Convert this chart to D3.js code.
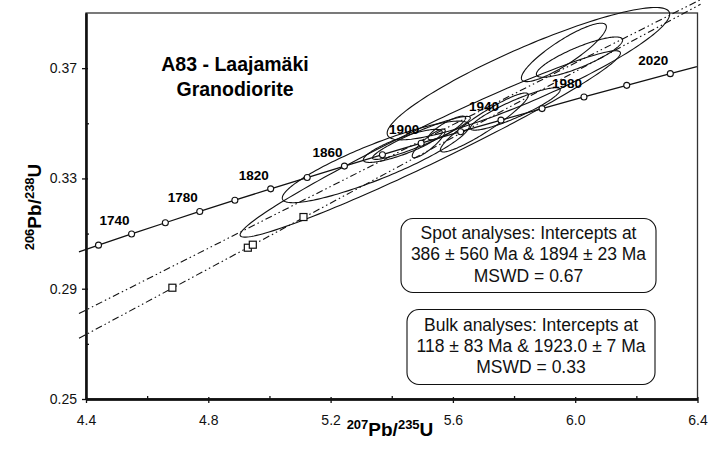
<!DOCTYPE html>
<html>
<head>
<meta charset="utf-8">
<script src="https://cdn.jsdelivr.net/npm/d3@7"></script>
<style>
  body { margin: 0; background: #fff; }
  svg { display: block; font-family: "Liberation Sans", Arial, sans-serif; }
</style>
</head>
<body>
<svg id="chart" width="708" height="454"></svg>
<script>
// U-Pb concordia plot, sample A83 Laajamaki granodiorite

// decay constants per Ma
const L238 = 1.55125e-4;
const L235 = 9.8485e-4;

// concordia ages with markers, labelled ages and extent of the drawn curve (Ma)
const AGES = [1720, 1740, 1760, 1780, 1800, 1820, 1840, 1860, 1880, 1900, 1920, 1940, 1960, 1980, 2000, 2020];
const AGE_LABELS = [1740, 1780, 1820, 1860, 1900, 1940, 1980, 2020];
const CONCORDIA_SPAN = [1708, 2032];

// discordia intercepts (Ma) and drawn x extent
const SPOT_INTERCEPTS = [386, 1894];
const BULK_INTERCEPTS = [118, 1923];
const DISCORDIA_X = [4.377, 6.41];

// bulk analyses (squares)
const BULK_X = [4.6825, 4.9293, 4.9456, 5.1113];
const BULK_Y = [0.29036, 0.30487, 0.30596, 0.3160];

// spot analyses: centre, half extents of the error ellipse, error correlation
const SPOT_X   = [5.526, 5.847, 5.348, 5.963, 6.014, 5.436, 5.703, 5.521, 5.580, 5.497, 5.804];
const SPOT_Y   = [0.3425, 0.3680, 0.3360, 0.3757, 0.3740, 0.3418, 0.3503, 0.3427, 0.3483, 0.3447, 0.3552];
const SPOT_HX  = [0.622, 0.462, 0.306, 0.139, 0.141, 0.129, 0.144, 0.054, 0.061, 0.160, 0.147];
const SPOT_HY  = [0.0338, 0.0240, 0.0148, 0.0106, 0.0073, 0.0060, 0.0107, 0.0052, 0.0043, 0.0078, 0.0077];
const SPOT_RHO = [0.975, 0.899, 0.885, 0.875, 0.845, 0.84, 0.93, 0.87, 0.85, 0.93, 0.90];

const X_TICKS = [4.4, 4.8, 5.2, 5.6, 6.0, 6.4];
const X_MINOR = [4.6, 5.0, 5.4, 5.8, 6.2];
const Y_TICKS = [0.25, 0.29, 0.33, 0.37];
const Y_MINOR = [0.27, 0.31, 0.35];

const svg = d3.select("#chart");
const x = d3.scaleLinear().domain([4.4, 6.4]).range([86, 697.5]);
const y = d3.scaleLinear().domain([0.25, 0.39]).range([399, 13]);

function concordia(t){
  return [Math.exp(L235 * t) - 1, Math.exp(L238 * t) - 1];
}

// frame
svg.append("rect")
  .attr("x", x(4.4)).attr("y", y(0.39))
  .attr("width", x(6.4) - x(4.4)).attr("height", y(0.25) - y(0.39))
  .attr("fill", "none").attr("stroke", "#333").attr("stroke-width", 1.3);

// axes
const gx = svg.append("g").attr("transform", `translate(0,${y(0.25)})`);
gx.call(d3.axisBottom(x).tickValues(X_TICKS).tickFormat(d3.format(".1f")).tickSizeInner(4).tickSizeOuter(0).tickPadding(12));
gx.append("g").call(d3.axisBottom(x).tickValues(X_TICKS).tickFormat("").tickSizeInner(-2).tickSizeOuter(0));
gx.append("g").call(d3.axisBottom(x).tickValues(X_MINOR).tickFormat("").tickSizeInner(-3).tickSizeOuter(0));

const gy = svg.append("g").attr("transform", `translate(${x(4.4)},0)`);
gy.call(d3.axisLeft(y).tickValues(Y_TICKS).tickFormat(d3.format(".2f")).tickSizeInner(4).tickSizeOuter(0).tickPadding(5));
gy.append("g").call(d3.axisLeft(y).tickValues(Y_TICKS).tickFormat("").tickSizeInner(-2).tickSizeOuter(0));
gy.append("g").call(d3.axisLeft(y).tickValues(Y_MINOR).tickFormat("").tickSizeInner(-3).tickSizeOuter(0));

svg.selectAll(".domain").attr("stroke", "#111").attr("stroke-width", 1.8);
svg.selectAll(".tick line").attr("stroke", "#111").attr("stroke-width", 1.3);
svg.selectAll(".tick text").attr("font-size", 14).attr("font-family", "Liberation Sans, Arial").attr("fill", "#111");

// axis titles
const xt = svg.append("text").attr("x", 390).attr("y", 436)
  .attr("text-anchor", "middle").attr("font-weight", "bold").attr("font-size", 19);
xt.append("tspan").attr("font-size", 13).attr("dy", -7).text("207");
xt.append("tspan").attr("dy", 7).text("Pb/");
xt.append("tspan").attr("font-size", 13).attr("dy", -7).text("235");
xt.append("tspan").attr("dy", 7).text("U");

const yt = svg.append("text").attr("transform", "translate(41,207) rotate(-90)")
  .attr("text-anchor", "middle").attr("font-weight", "bold").attr("font-size", 19);
yt.append("tspan").attr("font-size", 13).attr("dy", -7).text("206");
yt.append("tspan").attr("dy", 7).text("Pb/");
yt.append("tspan").attr("font-size", 13).attr("dy", -7).text("238");
yt.append("tspan").attr("dy", 7).text("U");

// title
svg.append("text").attr("x", 235).attr("y", 71).attr("text-anchor", "middle")
  .attr("font-weight", "bold").attr("font-size", 19.5).text("A83 - Laajamäki");
svg.append("text").attr("x", 235).attr("y", 96).attr("text-anchor", "middle")
  .attr("font-weight", "bold").attr("font-size", 19.5).text("Granodiorite");

// discordia lines
function discordia(ints){
  const a = concordia(ints[0]), b = concordia(ints[1]);
  const slope = (b[1] - a[1]) / (b[0] - a[0]);
  return DISCORDIA_X.map(v => [v, a[1] + slope * (v - a[0])]);
}
const line = d3.line().x(d => x(d[0])).y(d => y(d[1]));
svg.append("path").attr("d", line(discordia(SPOT_INTERCEPTS)))
  .attr("fill", "none").attr("stroke", "#111").attr("stroke-width", 1.1)
  .attr("stroke-dasharray", "7,3,1.5,3,1.5,3");
svg.append("path").attr("d", line(discordia(BULK_INTERCEPTS)))
  .attr("fill", "none").attr("stroke", "#111").attr("stroke-width", 1.1)
  .attr("stroke-dasharray", "7,3,1.5,3,1.5,3");

// concordia curve
const cPts = [CONCORDIA_SPAN[0], ...AGES, CONCORDIA_SPAN[1]].map(concordia);
svg.append("path").attr("d", line(cPts))
  .attr("fill", "none").attr("stroke", "#111").attr("stroke-width", 1.3);

// spot error ellipses
const ts = d3.range(0, 2 * Math.PI, Math.PI / 90);
const ellipseLine = d3.line().x(d => x(d[0])).y(d => y(d[1])).curve(d3.curveLinearClosed);
SPOT_X.forEach((cx, i) => {
  const r = SPOT_RHO[i], s = Math.sqrt(1 - r * r);
  const pts = ts.map(t => [cx + SPOT_HX[i] * Math.cos(t),
    SPOT_Y[i] + SPOT_HY[i] * (r * Math.cos(t) + s * Math.sin(t))]);
  svg.append("path").attr("d", ellipseLine(pts))
    .attr("fill", "none").attr("stroke", "#111").attr("stroke-width", 1.1);
});

// concordia markers and labels
svg.selectAll("circle.age").data(AGES).join("circle")
  .attr("class", "age")
  .attr("cx", d => x(concordia(d)[0])).attr("cy", d => y(concordia(d)[1]))
  .attr("r", 3).attr("fill", "#fff").attr("stroke", "#111").attr("stroke-width", 1.1);
svg.selectAll("text.age").data(AGE_LABELS).join("text")
  .attr("class", "age")
  .attr("x", d => x(concordia(d)[0]) - 2).attr("y", d => y(concordia(d)[1]) - 9)
  .attr("text-anchor", "end").attr("font-weight", "bold").attr("font-size", 13.5)
  .text(d => d);

// bulk squares
svg.selectAll("rect.bulk").data(BULK_X).join("rect")
  .attr("class", "bulk")
  .attr("x", (d, i) => x(d) - 3.5).attr("y", (d, i) => y(BULK_Y[i]) - 3.5)
  .attr("width", 7).attr("height", 7)
  .attr("fill", "#fff").attr("stroke", "#111").attr("stroke-width", 1.2);

// result boxes
function resultBox(x0, y0, x1, y1, lines, base){
  svg.append("rect").attr("x", x0).attr("y", y0).attr("width", x1 - x0).attr("height", y1 - y0)
    .attr("rx", 12).attr("fill", "#fff").attr("stroke", "#111").attr("stroke-width", 1.1);
  lines.forEach((t, i) => {
    svg.append("text").attr("x", (x0 + x1) / 2).attr("y", base + i * 21.3)
      .attr("text-anchor", "middle").attr("font-size", 17.5).attr("fill", "#111").text(t);
  });
}
resultBox(401, 218.5, 656, 292.5,
  ["Spot analyses: Intercepts at", "386 \u00b1 560 Ma & 1894 \u00b1 23 Ma", "MSWD = 0.67"], 239);
resultBox(407, 309.5, 655, 384.5,
  ["Bulk analyses: Intercepts at", "118 \u00b1 83 Ma & 1923.0 \u00b1 7 Ma", "MSWD = 0.33"], 330.5);
</script>
</body>
</html>
